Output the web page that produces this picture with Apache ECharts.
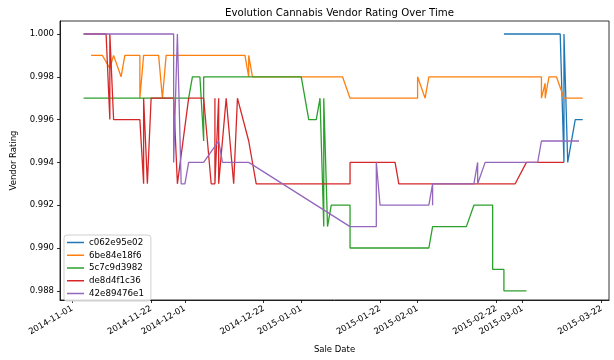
<!DOCTYPE html>
<html>
<head>
<meta charset="utf-8">
<script src="https://cdn.jsdelivr.net/npm/echarts@6/dist/echarts.min.js"></script>
<style>
  html, body { margin: 0; padding: 0; background: #fff; }
  #chart { width: 614px; height: 360px; }
</style>
</head>
<body>
<div id="chart"></div>
<script>
// vendor ids, in legend order
var vendors = ['c062e95e02', '6be84e18f6', '5c7c9d3982', 'de8d4f1c36', '42e89476e1'];

var c062Dates = ['2015-02-24', '2015-03-11', '2015-03-12', '2015-03-12', '2015-03-13', '2015-03-15', '2015-03-17'];
var c062Rating = [1.000, 1.000, 0.994, 1.000, 0.994, 0.996, 0.996];

var be84Dates = ['2014-11-06', '2014-11-09', '2014-11-11', '2014-11-12', '2014-11-14', '2014-11-15',
    '2014-11-19', '2014-11-19', '2014-11-20', '2014-11-24', '2014-11-25', '2014-11-26',
    '2014-12-17', '2014-12-18', '2014-12-18', '2014-12-19', '2015-01-12', '2015-01-14',
    '2015-02-01', '2015-02-01', '2015-02-03', '2015-02-04', '2015-03-06', '2015-03-06',
    '2015-03-07', '2015-03-07', '2015-03-08', '2015-03-10', '2015-03-12', '2015-03-17'];
var be84Rating = [0.999, 0.999, 0.9984, 0.999, 0.998, 0.999,
    0.999, 0.997, 0.999, 0.999, 0.997, 0.999,
    0.999, 0.998, 0.999, 0.998, 0.998, 0.997,
    0.997, 0.998, 0.997, 0.998, 0.998, 0.997,
    0.9977, 0.997, 0.998, 0.998, 0.997, 0.997];

var c7c9Dates = ['2014-11-04', '2014-12-02', '2014-12-03', '2014-12-05', '2014-12-06', '2014-12-06',
    '2015-01-01', '2015-01-03', '2015-01-05', '2015-01-06', '2015-01-07', '2015-01-07',
    '2015-01-08', '2015-01-09', '2015-01-14', '2015-01-14', '2015-02-04', '2015-02-05',
    '2015-02-14', '2015-02-16', '2015-02-21', '2015-02-21', '2015-02-24', '2015-02-24', '2015-03-02'];
var c7c9Rating = [0.997, 0.997, 0.998, 0.998, 0.995, 0.998,
    0.998, 0.996, 0.996, 0.997, 0.991, 0.997,
    0.991, 0.992, 0.992, 0.990, 0.990, 0.991,
    0.991, 0.992, 0.992, 0.989, 0.989, 0.988, 0.988];

var de8dDates = ['2014-11-04', '2014-11-10', '2014-11-11', '2014-11-11', '2014-11-12', '2014-11-19',
    '2014-11-20', '2014-11-20', '2014-11-21', '2014-11-22', '2014-11-28', '2014-11-29',
    '2014-12-02', '2014-12-06', '2014-12-08', '2014-12-09', '2014-12-09', '2014-12-09',
    '2014-12-10', '2014-12-10', '2014-12-12', '2014-12-14', '2014-12-15', '2014-12-18',
    '2014-12-20', '2015-01-14', '2015-01-14', '2015-01-26', '2015-01-27', '2015-02-27',
    '2015-03-02', '2015-03-12'];
var de8dRating = [1.000, 1.000, 0.996, 1.000, 0.996, 0.996,
    0.993, 0.997, 0.993, 0.997, 0.997, 0.993,
    0.997, 0.997, 0.993, 0.993, 0.997, 0.993,
    0.997, 0.993, 0.997, 0.993, 0.997, 0.995,
    0.993, 0.993, 0.994, 0.994, 0.993, 0.993,
    0.994, 0.994];

var e894Dates = ['2014-11-04', '2014-11-28', '2014-11-28', '2014-11-29', '2014-11-30', '2014-12-01',
    '2014-12-02', '2014-12-06', '2014-12-10', '2014-12-11', '2014-12-18', '2015-01-14',
    '2015-01-21', '2015-01-21', '2015-01-22', '2015-02-04', '2015-02-05', '2015-02-05',
    '2015-02-05', '2015-02-16', '2015-02-17', '2015-02-17', '2015-02-19', '2015-03-05',
    '2015-03-06', '2015-03-16'];
var e894Rating = [1.000, 1.000, 0.994, 1.000, 0.993, 0.993,
    0.994, 0.994, 0.995, 0.994, 0.994, 0.991,
    0.991, 0.994, 0.992, 0.992, 0.993, 0.992,
    0.993, 0.993, 0.994, 0.993, 0.994, 0.994,
    0.995, 0.995];

var tickDates = ['2014-11-01', '2014-11-22', '2014-12-01', '2014-12-22', '2015-01-01',
    '2015-01-22', '2015-02-01', '2015-02-22', '2015-03-01', '2015-03-22'];
var ratingTicks = [0.988, 0.990, 0.992, 0.994, 0.996, 0.998, 1.000];

var colors = ['#1f77b4', '#ff7f0e', '#2ca02c', '#d62728', '#9467bd'];
var font = 'DejaVu Sans';

function ts(s) {
    var p = s.split('-');
    return new Date(+p[0], +p[1] - 1, +p[2]).getTime();
}
function pairs(dates, vals) {
    return dates.map(function (d, i) { return [ts(d), vals[i]]; });
}
function pad(n) { return n < 10 ? '0' + n : '' + n; }

var DAY = 86400000;
var allDates = [c062Dates, be84Dates, c7c9Dates, de8dDates, e894Dates];
var allVals = [c062Rating, be84Rating, c7c9Rating, de8dRating, e894Rating];

var myChart = echarts.init(document.getElementById('chart'));
var option = {
    animation: false,
    color: colors,
    title: {
        text: 'Evolution Cannabis Vendor Rating Over Time',
        left: 334.5,
        top: 3,
        textAlign: 'center',
        textStyle: { fontFamily: font, fontSize: 10.2, fontWeight: 'normal', color: '#000' }
    },
    legend: {
        data: vendors,
        orient: 'vertical',
        left: 64,
        top: 235,
        padding: [2, 7, 2, 3],
        icon: 'rect',
        itemWidth: 17,
        itemHeight: 1.5,
        itemGap: 1.75,
        backgroundColor: 'rgba(255,255,255,0.8)',
        borderColor: '#d0d0d0',
        borderWidth: 1,
        borderRadius: 3,
        textStyle: { fontFamily: font, fontSize: 8.7, lineHeight: 11, color: '#000' }
    },
    grid: {
        left: 60,
        right: 5,
        top: 21,
        bottom: 60,
        show: true,
        borderColor: '#000',
        borderWidth: 0.8
    },
    xAxis: {
        type: 'value',
        scale: true,
        min: ts('2014-11-01') - 3.28 * DAY,
        max: ts('2014-11-01') + 143.0 * DAY,
        name: 'Sale Date',
        nameLocation: 'middle',
        nameGap: 45,
        nameTextStyle: { fontFamily: font, fontSize: 8.5, color: '#000' },
        axisLine: { lineStyle: { color: '#000', width: 0.8 } },
        axisTick: { length: 3, lineStyle: { color: '#000', width: 0.8 }, customValues: tickDates.map(ts) },
        axisLabel: {
            rotate: 30,
            margin: 8,
            fontFamily: font,
            fontSize: 8.5,
            color: '#000',
            customValues: tickDates.map(ts),
            formatter: function (v) {
                var d = new Date(v);
                return d.getFullYear() + '-' + pad(d.getMonth() + 1) + '-' + pad(d.getDate());
            }
        },
        splitLine: { show: false }
    },
    yAxis: {
        type: 'value',
        min: 0.98757,
        max: 1.000607,
        name: 'Vendor Rating',
        nameLocation: 'middle',
        nameGap: 40,
        nameTextStyle: { fontFamily: font, fontSize: 8.5, color: '#000' },
        axisLine: { show: true, lineStyle: { color: '#000', width: 0.8 } },
        axisTick: { show: true, length: 3, lineStyle: { color: '#000', width: 0.8 }, customValues: ratingTicks },
        axisLabel: {
            margin: 6,
            fontFamily: font,
            fontSize: 8.5,
            color: '#000',
            customValues: ratingTicks,
            formatter: function (v) { return v.toFixed(3); }
        },
        splitLine: { show: false }
    },
    series: vendors.map(function (name, i) {
        return {
            name: name,
            type: 'line',
            showSymbol: false,
            symbol: 'none',
            lineStyle: { width: 1.3 },
            data: pairs(allDates[i], allVals[i])
        };
    })
};
myChart.setOption(option);
</script>
</body>
</html>
